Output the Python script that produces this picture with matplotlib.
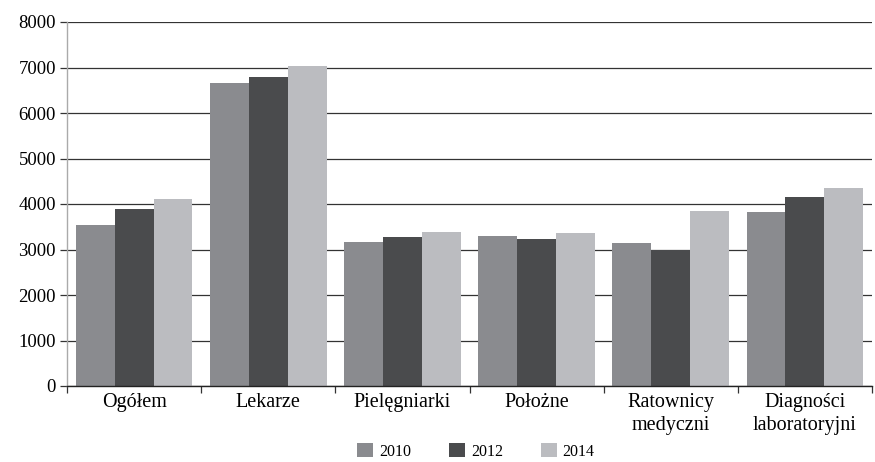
import numpy as np
import matplotlib
matplotlib.use('Agg')
import matplotlib.pyplot as plt

categories = ['Ogółem', 'Lekarze', 'Pielęgniarki', 'Położne',
              'Ratownicy\nmedyczni', 'Diagności\nlaboratoryjni']
years = ['2010', '2012', '2014']
v2010 = [3540, 6660, 3165, 3300, 3145, 3825]
v2012 = [3890, 6790, 3275, 3230, 2985, 4155]
v2014 = [4115, 7030, 3385, 3365, 3850, 4350]
colors = ['#8a8b8f', '#4a4b4d', '#bbbcc0']

plt.rcParams['font.family'] = ['Liberation Serif', 'DejaVu Serif']

fig = plt.figure(figsize=(8.75, 4.62), dpi=100)
ax = fig.add_axes([67 / 875, 1 - 386 / 462, 805 / 875, (386 - 22) / 462])

x = np.arange(len(categories))
w = 0.29
for k, (vals, lab) in enumerate(zip([v2010, v2012, v2014], years)):
    ax.bar(x + (k - 1) * w, vals, width=w, color=colors[k], label=lab,
           zorder=2, linewidth=0)

ax.set_xlim(-0.5, len(categories) - 0.5)
ax.set_ylim(0, 8000)
ax.set_yticks(range(0, 8001, 1000))
ax.yaxis.grid(True, color='#333333', linewidth=0.9, zorder=0)
ax.set_axisbelow(True)

ax.set_xticks(x)
ax.set_xticklabels(categories, fontsize=14.5, linespacing=1.3)
ax.set_xticks(np.arange(-0.5, len(categories)), minor=True)
ax.tick_params(axis='x', which='major', length=0, pad=5)
ax.tick_params(axis='x', which='minor', length=5, color='#333333', width=0.9)
ax.tick_params(axis='y', length=5, color='#333333', width=0.9,
               labelsize=13.5, pad=3)

for s in ['top', 'right']:
    ax.spines[s].set_visible(False)
ax.spines['left'].set_color('#aaaaaa')
ax.spines['left'].set_linewidth(1.0)
ax.spines['bottom'].set_color('#222222')
ax.spines['bottom'].set_linewidth(1.0)

fig.legend(loc='lower center', bbox_to_anchor=(0.544, -0.026), ncol=3,
           frameon=False, fontsize=11.5, handlelength=1.0, handleheight=1.0,
           handletextpad=0.35, columnspacing=2.4)

fig.savefig('out.png', dpi=100)
